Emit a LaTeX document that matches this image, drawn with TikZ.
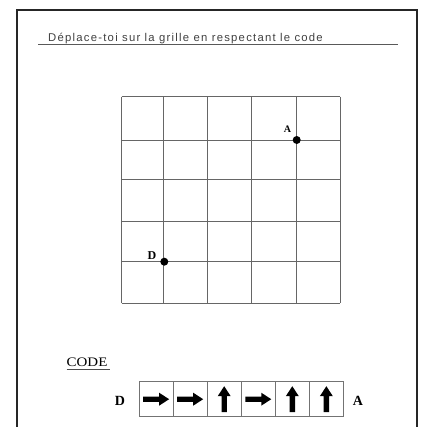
\documentclass[tikz,border=0pt]{standalone}
\usepackage{fontspec}
\setmainfont{Liberation Serif}
\newfontfamily\titlefont[LetterSpace=11]{Liberation Sans}
\newfontfamily\codefont[FakeStretch=1.15]{Liberation Serif}
\begin{document}
\begin{tikzpicture}[x=1pt,y=-1pt,
  gridline/.style={draw=black!60, line width=0.9pt},
  dot/.style={circle, fill=black, inner sep=0pt, minimum width=8pt, minimum height=7pt},
  ptlabel/.style={font=\bfseries\fontsize{10}{12}\selectfont, inner sep=0pt},
  codelabel/.style={font=\bfseries\fontsize{14}{14}\selectfont, inner sep=0pt},
  codebox/.style={draw=black!55, line width=0.9pt, minimum width=34.2pt, minimum height=35pt, inner sep=0pt},
  blockarrow/.pic={\fill[black] (-13,-2.7) -- (3,-2.7) -- (3,-6.5) -- (13,0) -- (3,6.5) -- (3,2.7) -- (-13,2.7) -- cycle;}
]
\useasboundingbox (0,0) rectangle (424,427);
% frame
\draw[line width=2pt, black!85] (17,440) -- (17,10) -- (417,10) -- (417,440);
% title
\node[anchor=base west, inner sep=0pt, text=black!75, font=\titlefont\fontsize{11.3}{12}\selectfont] (title) at (48,42) {Déplace-toi sur la grille en respectant le code};
\draw[black!65, line width=0.8pt] (38,44.5) -- (398,44.5);
% grid
\foreach \x in {121.7,163.3,207.3,251.7,296.7,340} \draw[gridline] (\x,96.7) -- (\x,303.3);
\foreach \y in {96.7,140,179.3,221.7,261.7,303.3} \draw[gridline] (121.7,\y) -- (340,\y);
% points
\node[dot] (A) at (296.7,140) {};
\node[ptlabel] (Alab) at (287.5,129) {A};
\node[dot] (D) at (164.3,261.7) {};
\node[ptlabel, font=\bfseries\fontsize{12}{12}\selectfont] (Dlab) at (152,255.5) {D};
% code
\node[anchor=base west, inner sep=0pt, font=\codefont\fontsize{13}{14}\selectfont] (code) at (66.5,366) {CODE};
\draw[black!70, line width=0.8pt] (code.base west) ++(0,3.5) -- ++(43.5,0);
\foreach \i in {0,...,5} \node[codebox] (b\i) at (156.1+\i*34.05,399.2) {};
\foreach \i/\r in {0/0,1/0,2/90,3/0,4/90,5/90} \pic[rotate=\r] at (b\i.center) {blockarrow};
\node[codelabel] (Dc) at (120,401) {D};
\node[codelabel] (Ac) at (358,401) {A};
\end{tikzpicture}
\end{document}
